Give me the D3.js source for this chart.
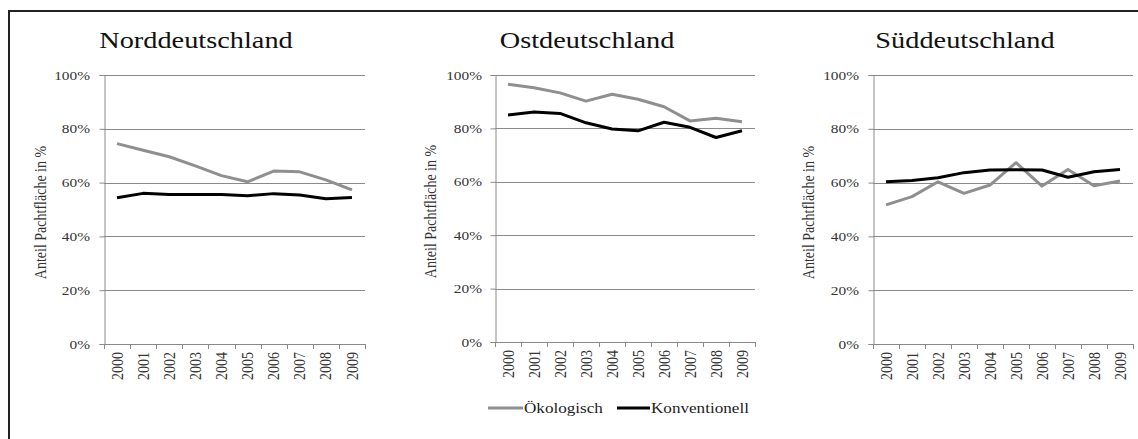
<!DOCTYPE html>
<html><head><meta charset="utf-8">
<script src="https://cdn.jsdelivr.net/npm/d3@7"></script>
<style>
html,body{margin:0;padding:0;background:#fff;}
svg text{font-family:'Liberation Serif','Times New Roman',Times,'DejaVu Serif',serif;}
</style></head>
<body>
<svg id="c" width="1138" height="439"></svg>
<script>
const years = ["2000","2001","2002","2003","2004","2005","2006","2007","2008","2009"];
const regions = ["Norddeutschland","Ostdeutschland","Süddeutschland"];
const seriesNames = ["Ökologisch","Konventionell"];
const yTicks = [0,0.2,0.4,0.6,0.8,1.0];
const yTickLabels = ["0%","20%","40%","60%","80%","100%"];
const yLabel = "Anteil Pachtfläche in %";

const nordOeko = [74.5,72.0,69.6,66.2,62.6,60.3,64.3,64.0,61.0,57.3];
const nordKonv = [54.4,56.0,55.6,55.6,55.6,55.1,55.9,55.4,54.0,54.5];
const ostOeko  = [96.5,95.2,93.3,90.2,92.8,90.9,88.1,82.8,83.8,82.5];
const ostKonv  = [85.0,86.1,85.6,82.1,79.8,79.1,82.3,80.4,76.6,79.1];
const suedOeko = [51.7,54.8,60.3,56.0,59.1,67.4,58.7,64.9,58.8,60.6];
const suedKonv = [60.3,60.8,61.8,63.7,64.7,64.8,64.7,62.0,64.0,64.9];

const data = [[nordOeko,nordKonv],[ostOeko,ostKonv],[suedOeko,suedKonv]];
const colors = ["#8f8f8f","#000000"];
const FONT = "'Liberation Serif','Times New Roman',Times,'DejaVu Serif',serif";

const panels = [
  {x0:104,x1:365,y0:344,y1:75,titleX:196,labX:40,tickX:90},
  {x0:495,x1:755,y0:342,y1:75,titleX:587,labX:430,tickX:482},
  {x0:873,x1:1133,y0:344,y1:75,titleX:965,labX:808,tickX:859}
];
const SX = 1.18;
const svg = d3.select("#c");

function stretch(sel){
  sel.each(function(){
    const L = this.getComputedTextLength();
    d3.select(this).attr("textLength",L*SX).attr("lengthAdjust","spacingAndGlyphs");
  });
}

svg.append("line").attr("x1",9).attr("x2",1138).attr("y1",11).attr("y2",11).attr("stroke","#222").attr("stroke-width",2);
svg.append("line").attr("x1",9).attr("x2",9).attr("y1",10).attr("y2",439).attr("stroke","#222").attr("stroke-width",2);

panels.forEach((p,i)=>{
  const g = svg.append("g").attr("font-family",FONT);
  const x = d3.scaleBand().domain(years).range([p.x0,p.x1]);
  const y = d3.scaleLinear().domain([0,1]).range([p.y0,p.y1]);

  g.selectAll(".grid").data(yTicks.slice(1)).enter().append("line")
    .attr("x1",p.x0).attr("x2",p.x1)
    .attr("y1",d=>Math.round(y(d))+0.5).attr("y2",d=>Math.round(y(d))+0.5)
    .attr("stroke","#8a8a8a").attr("stroke-width",1);

  const ya = d3.axisLeft(y).tickValues(yTicks).tickSize(5).tickFormat("");
  const yg = g.append("g").attr("transform",`translate(${p.x0+0.5},0)`).call(ya);
  yg.select(".domain").attr("stroke","#8a8a8a");
  yg.selectAll(".tick line").attr("stroke","#8a8a8a");
  g.selectAll(".ytl").data(yTicks).enter().append("text")
    .attr("x",p.tickX).attr("y",d=>y(d)+4.5)
    .attr("text-anchor","end").attr("font-size",13).attr("fill","#333").attr("font-family",FONT)
    .text((d,k)=>yTickLabels[k]).call(stretch);

  const xa = d3.axisBottom(x).tickSize(0).tickFormat("");
  const xg = g.append("g").attr("transform",`translate(0,${Math.round(p.y0)+0.5})`).call(xa);
  xg.select(".domain").attr("stroke","#8a8a8a").attr("d",`M${p.x0},0H${p.x1}`);
  const bounds = years.map(yr=>x(yr)).concat([p.x1]);
  g.selectAll(".xt").data(bounds).enter().append("line")
    .attr("x1",d=>Math.round(d)+0.5).attr("x2",d=>Math.round(d)+0.5)
    .attr("y1",p.y0).attr("y2",p.y0+5).attr("stroke","#8a8a8a");
  g.selectAll(".xtl").data(years).enter().append("text")
    .attr("transform",d=>`translate(${x(d)+x.bandwidth()/2},${p.y0+8}) rotate(-90) scale(1,1.15)`)
    .attr("text-anchor","end").attr("dy","0.35em").attr("font-size",14).attr("fill","#333").attr("font-family",FONT)
    .text(d=>d);

  g.append("text").attr("x",p.titleX).attr("y",48)
    .attr("text-anchor","middle").attr("font-size",24).attr("fill","#111").attr("font-family",FONT)
    .text(regions[i]).call(stretch);

  g.append("text").attr("transform",`translate(${p.labX},${(p.y0+p.y1)/2+3}) rotate(-90) scale(1,1.15)`)
    .attr("text-anchor","middle").attr("dy","0.35em").attr("font-size",14).attr("fill","#333").attr("font-family",FONT).text(yLabel);

  const line = d3.line().x((d,k)=>x(years[k])+x.bandwidth()/2).y(d=>y(d/100));
  data[i].forEach((s,j)=>{
    g.append("path").datum(s).attr("d",line).attr("fill","none")
      .attr("stroke",colors[j]).attr("stroke-width",3).attr("stroke-linejoin","round");
  });
});

const leg = svg.append("g");
const legItems = [{x1:488,x2:523},{x1:617,x2:650}];
legItems.forEach((it,j)=>{
  leg.append("line").attr("x1",it.x1).attr("x2",it.x2).attr("y1",408).attr("y2",408)
    .attr("stroke",colors[j]).attr("stroke-width",3);
  leg.append("text").attr("x",it.x2+1).attr("y",413)
    .attr("font-size",14.5).attr("fill","#222").attr("font-family",FONT)
    .text(seriesNames[j]).call(stretch);
});
</script>
</body></html>
